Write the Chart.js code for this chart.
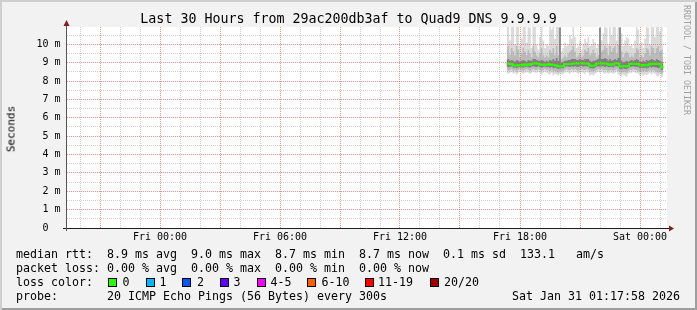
<!DOCTYPE html>
<html>
<head>
<meta charset="utf-8">
<script src="https://cdn.jsdelivr.net/npm/chart.js@4.4.1/dist/chart.umd.min.js"></script>
<style>
  html, body { margin: 0; padding: 0; background: #f2f2f2; }
  #wrap { position: relative; width: 697px; height: 310px; background: #f2f2f2; overflow: hidden;
          box-shadow: inset 2px 2px 0 #cfcfcf, inset -2px -2px 0 #9e9e9e; }
  #c { position: absolute; left: 0; top: 0; }
  .t { position: absolute; font-family: 'DejaVu Sans Mono', monospace; color: #000;
       white-space: pre; line-height: 1; }
  .leg { font-size: 11.63px; left: 16px; }
  .box { position: absolute; width: 7px; height: 7px; border: 1px solid #000; }
</style>
</head>
<body>
<div id="wrap">
  <canvas id="c" width="697" height="310"></canvas>
  <div class="t" id="title" style="font-size:13.3px; left:0; width:697px; text-align:center; top:12px;"></div>
  <div class="t" id="ylab" style="font-size:11px; left:11px; top:129px; transform:translate(-50%,-50%) rotate(-90deg);">Seconds</div>
  <div class="t" id="brand" style="font-size:8.3px; left:683px; top:5px; color:#a0a0a0; writing-mode:vertical-rl;">RRDTOOL / TOBI OETIKER</div>
  <div class="t leg" id="l1" style="top:249px;"></div>
  <div class="t leg" id="l2" style="top:263px;"></div>
  <div class="t leg" style="top:277px;">loss color:</div>
  <div id="loss"></div>
  <div class="t leg" id="l4" style="top:291px;"></div>
  <div class="t leg" id="stamp" style="top:291px; left:512px;"></div>
</div>
<script>
// one value every 5 minutes, starting Fri 17:20 (hours counted from Fri 00:00)
var startHour = 17 + 20 / 60
var stepHours = 5 / 60

var median = [
  8.95, 8.95, 8.93, 8.92, 8.86, 8.85, 8.84, 8.86, 8.85, 8.88,
  8.86, 8.90, 8.87, 8.91, 8.88, 8.93, 8.97, 8.98, 8.96, 8.95,
  8.90, 8.88, 8.90, 8.87, 8.89, 8.91, 8.88, 8.90, 8.87, 8.86,
  8.84, 8.80, 8.79, 8.81, 8.82, 8.92, 8.93, 8.94, 8.92, 8.93,
  8.96, 8.97, 8.98, 8.96, 8.97, 8.98, 8.96, 8.97, 8.95, 8.96,
  8.84, 8.82, 8.83, 8.85, 8.96, 8.97, 8.98, 8.96, 8.97, 8.95,
  8.96, 8.90, 8.89, 8.91, 8.90, 8.97, 8.98, 8.96, 8.80, 8.79,
  8.81, 8.80, 8.79, 8.82, 8.93, 8.94, 8.95, 8.93, 8.94, 8.92,
  8.86, 8.85, 8.87, 8.86, 8.85, 8.88, 8.93, 8.94, 8.95, 8.93,
  8.94, 8.93, 8.92, 8.76, 8.72
]
// smoke: highest and lowest ping of the 20
var smokeMax = [
  11, 11, 10.2, 11, 11, 10.0, 11, 11, 9.9, 10.3,
  11, 11, 10.1, 11, 10.9, 9.8, 11, 11, 10.0, 9.7,
  10.4, 11, 10.2, 9.8, 10.0, 9.9, 11, 10.8, 11, 10.3,
  11, 11, 11, 9.6, 9.8, 10.1, 9.9, 10.0, 10.5, 10.3,
  11, 10.4, 9.8, 9.9, 10.2, 9.7, 10.0, 10.3, 10.1, 10.4,
  9.9, 10.0, 10.3, 10.1, 9.8, 10.0, 11, 10.2, 10.6, 11,
  10.9, 10.0, 11, 10.5, 11, 11, 10.2, 11, 11, 10.6,
  9.9, 10.2, 10.4, 10.3, 9.9, 10.0, 9.8, 10.2, 11, 10.8,
  9.9, 10.1, 9.8, 10.3, 11, 10.9, 10.0, 11, 11, 10.4,
  11, 11, 10.7, 11, 9.9
]
var smokeMin = [
  8.45, 8.40, 8.45, 8.50, 8.40, 8.45, 8.35, 8.45, 8.50, 8.45,
  8.40, 8.45, 8.50, 8.45, 8.40, 8.45, 8.50, 8.45, 8.45, 8.50,
  8.45, 8.35, 8.45, 8.50, 8.45, 8.40, 8.35, 8.45, 8.30, 8.40,
  8.35, 8.30, 8.40, 8.35, 8.40, 8.45, 8.50, 8.45, 8.40, 8.50,
  8.45, 8.50, 8.45, 8.40, 8.45, 8.50, 8.45, 8.40, 8.50, 8.45,
  8.30, 8.35, 8.30, 8.40, 8.45, 8.50, 8.45, 8.50, 8.45, 8.40,
  8.45, 8.40, 8.45, 8.45, 8.40, 8.45, 8.50, 8.35, 8.30, 8.25,
  8.35, 8.30, 8.25, 8.40, 8.45, 8.45, 8.50, 8.45, 8.45, 8.40,
  8.30, 8.35, 8.30, 8.35, 8.30, 8.40, 8.45, 8.35, 8.45, 8.40,
  8.30, 8.25, 8.35, 8.20, 8.30
]
// middle band of the pings
var midHi = [
  9.7, 9.9, 9.4, 9.8, 9.6, 9.4, 9.9, 9.7, 9.3, 9.5,
  9.8, 9.6, 9.4, 9.7, 9.5, 9.3, 9.9, 9.6, 9.4, 9.3,
  9.5, 9.8, 9.4, 9.3, 9.4, 9.3, 9.7, 9.5, 9.8, 9.4,
  9.9, 9.4, 10.2, 9.2, 9.3, 9.4, 9.3, 9.5, 9.6, 9.7,
  9.9, 9.6, 9.3, 9.4, 9.5, 9.3, 9.4, 9.7, 9.6, 9.8,
  9.4, 9.5, 9.7, 9.5, 9.3, 9.4, 10.1, 9.6, 9.7, 9.9,
  9.8, 9.4, 9.9, 9.6, 9.8, 9.9, 9.5, 10.0, 9.9, 9.6,
  9.3, 9.5, 9.6, 9.5, 9.3, 9.4, 9.3, 9.5, 9.8, 9.7,
  9.3, 9.4, 9.3, 9.5, 9.8, 9.7, 9.4, 9.9, 9.8, 9.5,
  9.8, 9.9, 9.6, 9.7, 9.3
]
var midLo = [
  8.60, 8.55, 8.60, 8.65, 8.55, 8.60, 8.50, 8.60, 8.65, 8.60,
  8.55, 8.60, 8.65, 8.60, 8.55, 8.60, 8.65, 8.60, 8.60, 8.65,
  8.60, 8.55, 8.60, 8.65, 8.60, 8.60, 8.55, 8.60, 8.50, 8.55,
  8.50, 8.45, 8.55, 8.50, 8.55, 8.60, 8.65, 8.60, 8.60, 8.65,
  8.60, 8.65, 8.60, 8.55, 8.60, 8.65, 8.60, 8.60, 8.65, 8.60,
  8.50, 8.55, 8.50, 8.55, 8.60, 8.65, 8.60, 8.65, 8.60, 8.60,
  8.60, 8.55, 8.60, 8.60, 8.55, 8.60, 8.65, 8.55, 8.50, 8.45,
  8.50, 8.50, 8.45, 8.55, 8.60, 8.60, 8.65, 8.60, 8.60, 8.55,
  8.50, 8.55, 8.50, 8.55, 8.50, 8.55, 8.60, 8.55, 8.60, 8.55,
  8.50, 8.45, 8.50, 8.40, 8.45
]
// dense core round the median
var coreHi = [
  9.15, 9.20, 9.10, 9.15, 9.10, 9.05, 9.15, 9.10, 9.05, 9.10,
  9.15, 9.10, 9.05, 9.15, 9.10, 9.10, 9.20, 9.20, 9.15, 9.10,
  9.10, 9.15, 9.10, 9.05, 9.10, 9.05, 9.15, 9.10, 9.20, 9.10,
  9.25, 9.10, 10.9, 9.00, 9.05, 9.10, 9.10, 9.15, 9.15, 9.20,
  9.20, 9.20, 9.15, 9.15, 9.20, 9.15, 9.15, 9.20, 9.20, 9.20,
  9.10, 9.05, 9.10, 9.10, 9.15, 9.20, 10.9, 9.20, 9.20, 9.25,
  9.20, 9.10, 9.20, 9.10, 9.15, 9.20, 9.15, 9.25, 10.9, 9.10,
  9.00, 9.05, 9.10, 9.05, 9.10, 9.15, 9.10, 9.15, 9.20, 9.15,
  9.05, 9.05, 9.10, 9.05, 9.15, 9.10, 9.15, 9.20, 9.15, 9.10,
  9.20, 9.15, 9.10, 9.05, 8.95
]
var coreLo = [
  8.78, 8.75, 8.78, 8.80, 8.72, 8.74, 8.70, 8.75, 8.76, 8.75,
  8.72, 8.76, 8.78, 8.75, 8.73, 8.78, 8.80, 8.78, 8.76, 8.80,
  8.76, 8.72, 8.76, 8.78, 8.75, 8.76, 8.72, 8.76, 8.70, 8.72,
  8.70, 8.65, 8.68, 8.70, 8.70, 8.76, 8.80, 8.78, 8.76, 8.80,
  8.78, 8.80, 8.78, 8.76, 8.80, 8.82, 8.78, 8.80, 8.80, 8.78,
  8.70, 8.70, 8.68, 8.72, 8.78, 8.80, 8.78, 8.80, 8.80, 8.76,
  8.80, 8.75, 8.76, 8.78, 8.74, 8.80, 8.82, 8.76, 8.66, 8.64,
  8.68, 8.66, 8.64, 8.70, 8.76, 8.78, 8.80, 8.78, 8.78, 8.75,
  8.70, 8.72, 8.70, 8.72, 8.68, 8.72, 8.78, 8.74, 8.78, 8.75,
  8.74, 8.70, 8.72, 8.60, 8.60
]

var xMin = -4.65, xMax = 25.35
// hourly grid, red every 3 hours, labels every 6
var xGridHours = [-4, -3, -2, -1, 0, 1, 2, 3, 4, 5, 6, 7, 8, 9, 10, 11, 12, 13, 14,
                  15, 16, 17, 18, 19, 20, 21, 22, 23, 24, 25]
var xTickHours = [0, 6, 12, 18, 24]
var xTickLabels = ['Fri 00:00', 'Fri 06:00', 'Fri 12:00', 'Fri 18:00', 'Sat 00:00']
var yMax = 10.94
var yGridValues = [0, 0.5, 1, 1.5, 2, 2.5, 3, 3.5, 4, 4.5, 5, 5.5, 6, 6.5, 7, 7.5, 8, 8.5,
                   9, 9.5, 10, 10.5]
var yTickValues = [0, 1, 2, 3, 4, 5, 6, 7, 8, 9, 10]
var yTickLabels = ['0  ', '1 m', '2 m', '3 m', '4 m', '5 m', '6 m', '7 m', '8 m', '9 m', '10 m']

var lossLabels = ['0', '1', '2', '3', '4-5', '6-10', '11-19', '20/20']
var lossColors = ['#26ff00', '#00b8ff', '#0059ff', '#5e00ff', '#ff00ff', '#ff5e00', '#ff0000', '#a10000']

var titleText = 'Last 30 Hours from 29ac200db3af to Quad9 DNS 9.9.9.9'
var line1 = 'median rtt:  8.9 ms avg  9.0 ms max  8.7 ms min  8.7 ms now  0.1 ms sd  133.1   am/s'
var line2 = 'packet loss: 0.00 % avg  0.00 % max  0.00 % min  0.00 % now'
var line4 = 'probe:       20 ICMP Echo Pings (56 Bytes) every 300s'
var stamp = 'Sat Jan 31 01:17:58 2026'

document.getElementById('title').textContent = titleText
document.getElementById('l1').textContent = line1
document.getElementById('l2').textContent = line2
document.getElementById('l4').textContent = line4
document.getElementById('stamp').textContent = stamp

var boxX = [108, 145.5, 182, 219.5, 256.5, 307, 365, 430]
var textX = [122.5, 159.5, 197, 233.5, 270.5, 321.5, 378, 444]
var lossDiv = document.getElementById('loss')
lossLabels.forEach(function (lab, i) {
  var b = document.createElement('div')
  b.className = 'box'
  b.style.left = boxX[i] + 'px'
  b.style.top = '278px'
  b.style.background = lossColors[i]
  lossDiv.appendChild(b)
  var t = document.createElement('div')
  t.className = 't leg'
  t.style.left = textX[i] + 'px'
  t.style.top = '277px'
  t.textContent = lab
  lossDiv.appendChild(t)
})

function pts(arr) {
  return arr.map(function (v, i) { return { x: startHour + i * stepHours, y: v } })
}

var MAJOR = 'rgba(225,75,75,0.6)'
var MINOR = 'rgba(150,150,150,0.45)'

function edge(arr, order) {
  return { data: pts(arr), borderWidth: 0, borderColor: 'transparent', pointRadius: 0,
           stepped: 'middle', fill: false, order: order }
}
function band(arr, target, color, order) {
  return { data: pts(arr), borderWidth: 0, borderColor: 'transparent', pointRadius: 0,
           stepped: 'middle', fill: { target: target }, backgroundColor: color, order: order }
}

var frame = {
  id: 'frame',
  beforeDraw: function (chart) {
    var a = chart.chartArea, ctx = chart.ctx
    ctx.save()
    ctx.fillStyle = '#ffffff'
    ctx.fillRect(a.left, a.top, a.right - a.left, a.bottom - a.top)
    ctx.restore()
  },
  afterDraw: function (chart) {
    var a = chart.chartArea, ctx = chart.ctx
    ctx.save()
    ctx.lineWidth = 1
    ctx.strokeStyle = '#1f1f1f'
    ctx.beginPath()
    ctx.moveTo(a.left - 4, a.bottom + 0.5)
    ctx.lineTo(a.right + 3, a.bottom + 0.5)
    ctx.stroke()
    ctx.strokeStyle = '#555'
    ctx.beginPath()
    ctx.moveTo(a.left - 0.5, a.bottom + 3)
    ctx.lineTo(a.left - 0.5, a.top - 1)
    ctx.stroke()
    ctx.fillStyle = '#801f1f'
    ctx.beginPath()
    ctx.moveTo(a.left - 3.5, a.top - 1)
    ctx.lineTo(a.left + 2.5, a.top - 1)
    ctx.lineTo(a.left - 0.5, a.top - 7)
    ctx.closePath()
    ctx.fill()
    ctx.beginPath()
    ctx.moveTo(a.right + 2, a.bottom - 2.5)
    ctx.lineTo(a.right + 2, a.bottom + 3.5)
    ctx.lineTo(a.right + 7, a.bottom + 0.5)
    ctx.closePath()
    ctx.fill()
    ctx.restore()
  }
}

var tickFont = { family: 'DejaVu Sans Mono', size: 10 }

new Chart(document.getElementById('c'), {
  type: 'line',
  data: {
    datasets: [
      { data: pts(median), borderColor: '#26ff00', borderWidth: 2, pointRadius: 0,
        stepped: 'middle', fill: false, order: 0 },
      band(smokeMax, 2, '#dadada', 10),
      edge(smokeMin, 11),
      band(midHi, 4, '#bababa', 8),
      edge(midLo, 9),
      band(coreHi, 6, '#808080', 6),
      edge(coreLo, 7)
    ]
  },
  options: {
    responsive: false,
    devicePixelRatio: 1,
    animation: false,
    events: [],
    layout: { padding: { left: 0, top: 27, right: 30, bottom: 62 } },
    plugins: { legend: { display: false }, tooltip: { enabled: false }, title: { display: false } },
    scales: {
      x: {
        type: 'linear', min: xMin, max: xMax,
        afterFit: function (s) { s.height = 20 },
        afterBuildTicks: function (s) { s.ticks = xGridHours.map(function (v) { return { value: v } }) },
        ticks: {
          autoSkip: false, maxRotation: 0, minRotation: 0,
          padding: 3, font: tickFont, color: '#000',
          callback: function (v) { var k = xTickHours.indexOf(v); return k < 0 ? '' : xTickLabels[k] }
        },
        grid: {
          z: 1, drawTicks: false, lineWidth: 1,
          color: function (c) { return c.tick && c.tick.value % 3 === 0 ? MAJOR : MINOR }
        },
        border: { display: false, dash: [1, 1] }
      },
      y: {
        type: 'linear', min: 0, max: yMax,
        afterFit: function (s) { s.width = 67 },
        afterBuildTicks: function (s) { s.ticks = yGridValues.map(function (v) { return { value: v } }) },
        ticks: {
          autoSkip: false, padding: 6.5, font: tickFont, color: '#000',
          callback: function (v) { var k = yTickValues.indexOf(v); return k < 0 ? '' : yTickLabels[k] }
        },
        grid: {
          z: 1, drawTicks: false, lineWidth: 1,
          color: function (c) { return c.tick && Number.isInteger(c.tick.value) ? MAJOR : MINOR }
        },
        border: { display: false, dash: [1, 1] }
      }
    }
  },
  plugins: [frame]
})
</script>
</body>
</html>
